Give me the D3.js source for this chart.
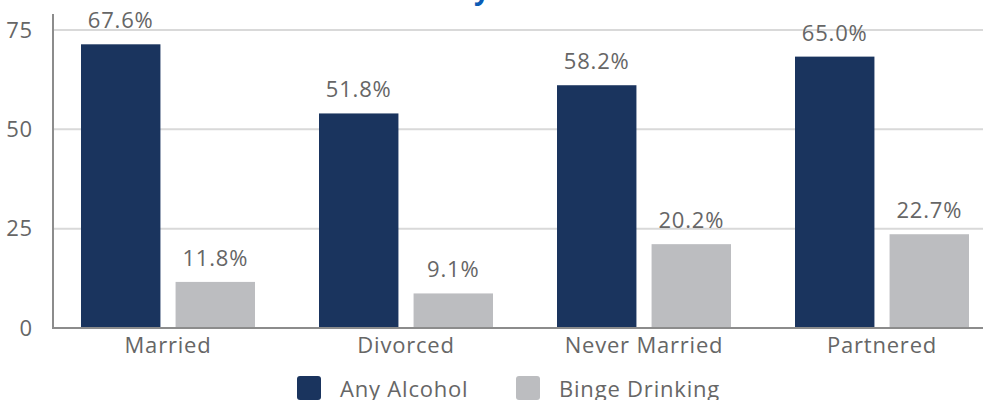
<!DOCTYPE html>
<html>
<head>
<meta charset="utf-8">
<script src="https://cdn.jsdelivr.net/npm/d3@7"></script>
<style>
  body { margin: 0; background: #fff; }
  text { font-family: "Open Sans", sans-serif; }
</style>
</head>
<body>
<div id="container"></div>
<script>
/* CONSTANTS AND GLOBALS */
const width = 983;
const height = 400;
const fontSize = "22px";
const spacing = "0.8px";

// DATA - bar heights, printed labels as shown
const categories = ["Married", "Divorced", "Never Married", "Partnered"];
const seriesNames = ["Any Alcohol", "Binge Drinking"];
const anyAlcohol = [71.4, 54.0, 61.1, 68.3];
const bingeDrinking = [11.6, 8.7, 21.1, 23.6];
const anyAlcoholLabels = ["67.6%", "51.8%", "58.2%", "65.0%"];
const bingeDrinkingLabels = ["11.8%", "9.1%", "20.2%", "22.7%"];
const yTicks = [0, 25, 50, 75];
const colors = ["#1a345e", "#bcbdc0"];

const data = categories.map((c, i) => ({
    category: c,
    values: [
        { key: seriesNames[0], value: anyAlcohol[i], label: anyAlcoholLabels[i] },
        { key: seriesNames[1], value: bingeDrinking[i], label: bingeDrinkingLabels[i] }
    ]
}));

// CREATE SVG
const svg = d3.select("#container")
    .append("svg")
    .attr("width", width)
    .attr("height", height);

/* SCALES */
const axisX = 53;
const x0 = d3.scaleBand()
    .domain(categories)
    .range([49, 1001]);

const x1 = d3.scaleBand()
    .domain(seriesNames)
    .range([32, 206])
    .paddingInner(0.16);

const yScale = d3.scaleLinear()
    .domain([0, 75])
    .range([328, 30]);

const color = d3.scaleOrdinal().domain(seriesNames).range(colors);

// TITLE (mostly cropped off the top of the frame)
svg.append("text")
    .attr("x", 491)
    .attr("y", -1)
    .attr("text-anchor", "middle")
    .style("font-size", "28px")
    .style("font-weight", "bold")
    .style("fill", "#0b5cb5")
    .text("Alcohol Use by Marital Status");

// GRIDLINES
svg.selectAll("line.grid")
    .data(yTicks.filter(d => d > 0))
    .join("line")
    .attr("class", "grid")
    .attr("x1", axisX)
    .attr("x2", width)
    .attr("y1", d => yScale(d))
    .attr("y2", d => yScale(d))
    .attr("stroke", "#d9d9d9")
    .attr("stroke-width", 2);

// Y AXIS
const yAxis = d3.axisLeft(yScale).tickValues(yTicks).tickSize(0).tickPadding(20);
const gy = svg.append("g")
    .attr("class", "axis")
    .attr("transform", `translate(${axisX},0)`)
    .call(yAxis);
gy.select(".domain").remove();
gy.selectAll("text")
    .style("font-family", "'Open Sans', sans-serif")
    .style("font-size", fontSize)
    .style("letter-spacing", spacing)
    .attr("fill", "#666");

// BARS
const groups = svg.selectAll("g.group")
    .data(data)
    .join("g")
    .attr("class", "group")
    .attr("transform", d => `translate(${x0(d.category)},0)`);

groups.selectAll("rect")
    .data(d => d.values)
    .join("rect")
    .attr("x", d => x1(d.key))
    .attr("y", d => yScale(d.value))
    .attr("width", x1.bandwidth())
    .attr("height", d => yScale(0) - yScale(d.value))
    .attr("fill", d => color(d.key));

// VALUE LABELS
groups.selectAll("text.value")
    .data(d => d.values)
    .join("text")
    .attr("class", "value")
    .attr("x", d => x1(d.key) + x1.bandwidth() / 2)
    .attr("y", d => yScale(d.value) - 16)
    .attr("text-anchor", "middle")
    .style("font-size", fontSize)
    .style("letter-spacing", spacing)
    .attr("fill", "#666")
    .text(d => d.label);

// AXIS LINES
svg.append("line")
    .attr("x1", axisX).attr("x2", axisX)
    .attr("y1", 14).attr("y2", yScale(0) + 1)
    .attr("stroke", "#8c8c8c")
    .attr("stroke-width", 2);

svg.append("line")
    .attr("x1", axisX - 1).attr("x2", width)
    .attr("y1", yScale(0)).attr("y2", yScale(0))
    .attr("stroke", "#8c8c8c")
    .attr("stroke-width", 2);

// X AXIS LABELS
const xAxis = d3.axisBottom(x0).tickSize(0).tickPadding(9);
const gx = svg.append("g")
    .attr("class", "axis")
    .attr("transform", `translate(0,${yScale(0)})`)
    .call(xAxis);
gx.select(".domain").remove();
gx.selectAll("text")
    .style("font-family", "'Open Sans', sans-serif")
    .style("font-size", fontSize)
    .style("letter-spacing", spacing)
    .attr("fill", "#666");

// LEGEND
const legendX = [297, 516];
const legend = svg.selectAll("g.legend")
    .data(seriesNames)
    .join("g")
    .attr("class", "legend")
    .attr("transform", (d, i) => `translate(${legendX[i]},376)`);

legend.append("rect")
    .attr("width", 24)
    .attr("height", 24)
    .attr("rx", 3)
    .attr("fill", d => color(d));

legend.append("text")
    .attr("x", 43)
    .attr("y", 21)
    .style("font-size", fontSize)
    .style("letter-spacing", spacing)
    .attr("fill", "#666")
    .text(d => d);
</script>
</body>
</html>
